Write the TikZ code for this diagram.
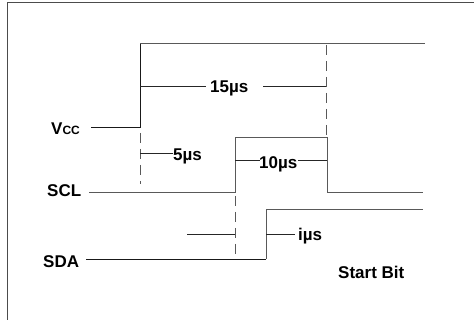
\documentclass[tikz,border=0pt]{standalone}
\usepackage{fontspec}
\setmainfont{Liberation Sans}
\begin{document}
\begin{tikzpicture}[x=1pt,y=-1pt,
  sig/.style={line width=0.9pt, draw=black!65},
  dim/.style={line width=0.9pt, draw=black!85},
  dsh/.style={line width=0.9pt, draw=black!65, dash pattern=on 10pt off 6pt},
  lbl/.style={font=\fontsize{17}{18}\selectfont\bfseries, anchor=base west, inner sep=0pt},
  frm/.style={line width=1.1pt, draw=black!70}]
\useasboundingbox (0,0) rectangle (474,320);
% frame (only left and top visible)
\draw[frm] (7.5,320) -- (7.5,2.5) -- (474,2.5);
% labels
\node[lbl] (vcc) at (51,135) {V{\fontsize{12}{12}\selectfont CC}};
\node[lbl] (scl) at (47,197) {SCL};
\node[lbl] (sda) at (43,268) {SDA};
\node[lbl] (start) at (338,279) {Start Bit};
\node[lbl] (t15) at (210,93) {15µs};
\node[lbl] (t5) at (173,161) {5µs};
\node[lbl] (t10) at (259,169) {10µs};
\node[lbl] (t1) at (298,241) {iµs};
% Vcc
\draw[sig, draw=black!90] (91,127) -- (140,127) -- (140,43);
\draw[sig] (140,43) -- (425,43);
\draw[dsh] (140,133) -- (140,184);
\draw[dsh] (326,45) -- (326,137);
\draw[dim] (140,86) -- (206,86);
\draw[dim] (263,86) -- (326,86);
\draw[dim] (140,153) -- (173,153);
% SCL
\draw[sig] (89,192) -- (235,192) -- (235,137) -- (327,137) -- (327,192) -- (423,192);
\draw[dim] (235,160) -- (260,160);
\draw[dim] (298,160) -- (327,160);
\draw[dsh] (235,196) -- (235,259);
\draw[dim] (187,234) -- (235,234);
% SDA
\draw[sig, draw=black!90] (86,259) -- (266,259);
\draw[sig] (266,259) -- (266,209) -- (423,209);
\draw[dim] (266,234) -- (295,234);
\end{tikzpicture}
\end{document}
